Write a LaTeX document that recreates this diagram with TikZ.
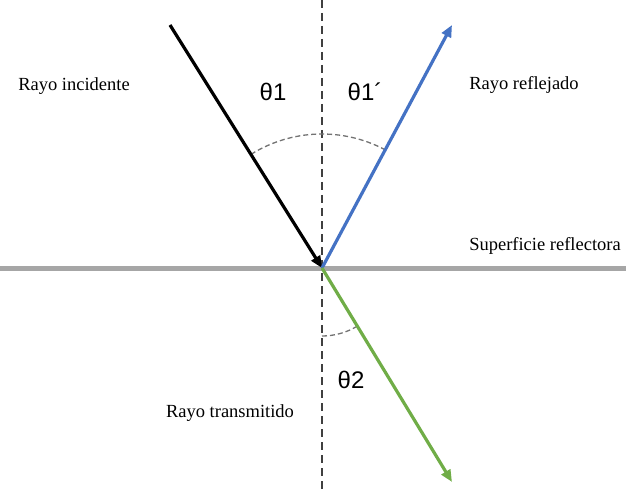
\documentclass[tikz,border=0pt]{standalone}
\usepackage{fontspec}
\setmainfont{Liberation Serif}
\newfontfamily\thetafont{Liberation Sans}
\usetikzlibrary{arrows.meta,calc}
\definecolor{rayblue}{HTML}{4472C4}
\definecolor{raygreen}{HTML}{70AD47}
\definecolor{surfgray}{HTML}{A6A6A6}
\begin{document}
\begin{tikzpicture}[x=1pt,y=-1pt,
  ray/.style={line width=3.2pt,-{Triangle[length=12pt,width=10pt]}},
  lbl/.style={font=\fontsize{18.5}{20}\selectfont,inner sep=0pt},
  ang/.style={font=\thetafont\fontsize{24}{26}\selectfont,inner sep=0pt},
  arcstyle/.style={draw=black!55,line width=1.3pt,dash pattern=on 5pt off 3pt}]
\useasboundingbox (0,0) rectangle (626,489);
\coordinate (O) at (322,268);
\coordinate (vt) at (322,0);
\coordinate (vb) at (322,489);
\coordinate (sl) at (0,268);
\coordinate (sr) at (626,268);
\coordinate (A) at (170,25);
\coordinate (B) at (452,25);
\coordinate (C) at (452,482);
% normal
\draw[line width=1.2pt,draw=black!75,dash pattern=on 8pt off 5pt] (vt) -- (vb);
% surface
\draw[line width=5pt,draw=surfgray] (sl) -- (sr);
% angle arcs
\draw[arcstyle] ($(O)+(238:134)$) arc[start angle=238,end angle=298,radius=134];
\draw[arcstyle] ($(O)+(90:68)$) arc[start angle=90,end angle=59,radius=68];
% rays
\draw[ray,draw=black,fill=black] (A) -- (O);
\draw[ray,draw=rayblue] (O) -- (B);
\draw[ray,draw=raygreen] (O) -- (C);
% labels
\node[lbl] (inc) at (74,86) {Rayo incidente};
\node[lbl] (ref) at (524,85) {Rayo reflejado};
\node[lbl] (sup) at (545,246) {Superficie reflectora};
\node[lbl] (tra) at (230,413) {Rayo transmitido};
\node[ang] (t1) at (273,92) {θ1};
\node[ang] (t1p) at (365,92) {θ1´};
\node[ang] (t2) at (351,380) {θ2};
\end{tikzpicture}
\end{document}
